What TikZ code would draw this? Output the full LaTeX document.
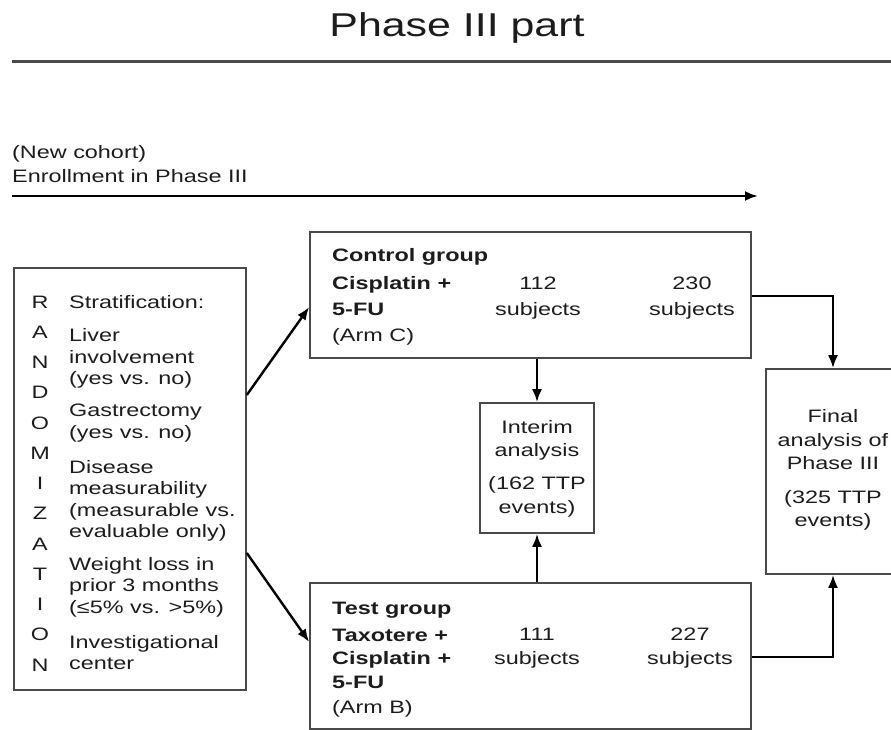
\documentclass[tikz,border=0pt]{standalone}
\usepackage{fontspec}
\setmainfont[FakeStretch=1.3]{Liberation Sans}
\usetikzlibrary{arrows.meta}
\definecolor{ink}{HTML}{1C1C1C}
\definecolor{boxline}{HTML}{4A4A4A}
\begin{document}
\begin{tikzpicture}[x=1pt,y=-1pt,
  txt/.style={inner sep=0pt, anchor=base west, font=\fontsize{18}{21}\selectfont, text=ink},
  btxt/.style={txt, font=\fontsize{18}{21}\selectfont\bfseries},
  ctxt/.style={txt, anchor=base},
  box/.style={draw=boxline, line width=1.6pt, inner sep=0pt},
  arr/.style={draw=black, line width=2.4pt, -{Latex[length=13pt,width=10pt]}}]
\useasboundingbox (0,0) rectangle (891,730);
% title
\node[ctxt, font=\fontsize{33}{38}\selectfont] (title) at (457,37) {Phase III part};
\coordinate (r0) at (12,62);
\coordinate (r1) at (891,62);
\draw[draw=boxline, line width=3pt] (r0) -- (r1);
% enrollment
\node[txt] (nc) at (12,159) {(New cohort)};
\node[txt] (en) at (12,183) {Enrollment in Phase III};
\coordinate (e0) at (12,196);
\coordinate (e1) at (758,196);
\draw[arr] (e0) -- (e1);
% boxes
\node[box, minimum width=232pt, minimum height=422pt] (L) at (130,479) {};
\node[box, minimum width=441pt, minimum height=126pt] (C) at (530.5,295) {};
\node[box, minimum width=114pt, minimum height=130pt] (I) at (537,468) {};
\node[box, minimum width=441pt, minimum height=146pt] (T) at (530.5,656) {};
\node[box, minimum width=134pt, minimum height=205pt] (F) at (833,471.5) {};
% RANDOMIZATION
\foreach \ch [count=\i from 0] in {R,A,N,D,O,M,I,Z,A,T,I,O,N}
  \node[ctxt] (rl\i) at (40,{308+30.25*\i}) {\ch};
% stratification text
\foreach \t/\yy [count=\i] in {Stratification:/308, Liver/341, involvement/363, {(yes vs. no)}/384,
  Gastrectomy/416, {(yes vs. no)}/438, Disease/473, measurability/494, {(measurable vs.}/516,
  {evaluable only)}/537, {Weight loss in}/570, {prior 3 months}/591, {(≤5\% vs. >5\%)}/613,
  Investigational/648, center/669}
  \node[txt] (st\i) at (69,\yy) {\t};
% control group
\node[btxt] (c1) at (332,261) {Control group};
\node[btxt] (c2) at (332,289) {Cisplatin +};
\node[btxt] (c3) at (332,315) {5-FU};
\node[txt] (c4) at (332,341) {(Arm C)};
\node[ctxt] (c5) at (538,289) {112};
\node[ctxt] (c6) at (538,315) {subjects};
\node[ctxt] (c7) at (692,289) {230};
\node[ctxt] (c8) at (692,315) {subjects};
% test group
\node[btxt] (t1) at (332,614) {Test group};
\node[btxt] (t2) at (332,641) {Taxotere +};
\node[btxt] (t3) at (332,664) {Cisplatin +};
\node[btxt] (t4) at (332,688) {5-FU};
\node[txt] (t5) at (332,713) {(Arm B)};
\node[ctxt] (t6) at (537,640) {111};
\node[ctxt] (t7) at (537,664) {subjects};
\node[ctxt] (t8) at (690,640) {227};
\node[ctxt] (t9) at (690,664) {subjects};
% interim
\node[ctxt] (i1) at (537,433) {Interim};
\node[ctxt] (i2) at (537,456) {analysis};
\node[ctxt] (i3) at (537,489) {(162 TTP};
\node[ctxt] (i4) at (537,513) {events)};
% final
\node[ctxt] (f1) at (833,422) {Final};
\node[ctxt] (f2) at (833,446) {analysis of};
\node[ctxt] (f3) at (833,469) {Phase III};
\node[ctxt] (f4) at (833,503) {(325 TTP};
\node[ctxt] (f5) at (833,526) {events)};
% connectors
\draw[arr] ([yshift=84pt]L.east) -- ([yshift=-12pt]C.west);
\draw[arr] ([yshift=-74pt]L.east) -- ([yshift=14pt]T.west);
\draw[arr] (I.north |- C.south) -- (I.north);
\draw[arr] (I.south |- T.north) -- (I.south);
\draw[arr] ([yshift=-1pt]C.east) -| (F.north);
\draw[arr] ([yshift=-1pt]T.east) -| (F.south);
\end{tikzpicture}
\end{document}
